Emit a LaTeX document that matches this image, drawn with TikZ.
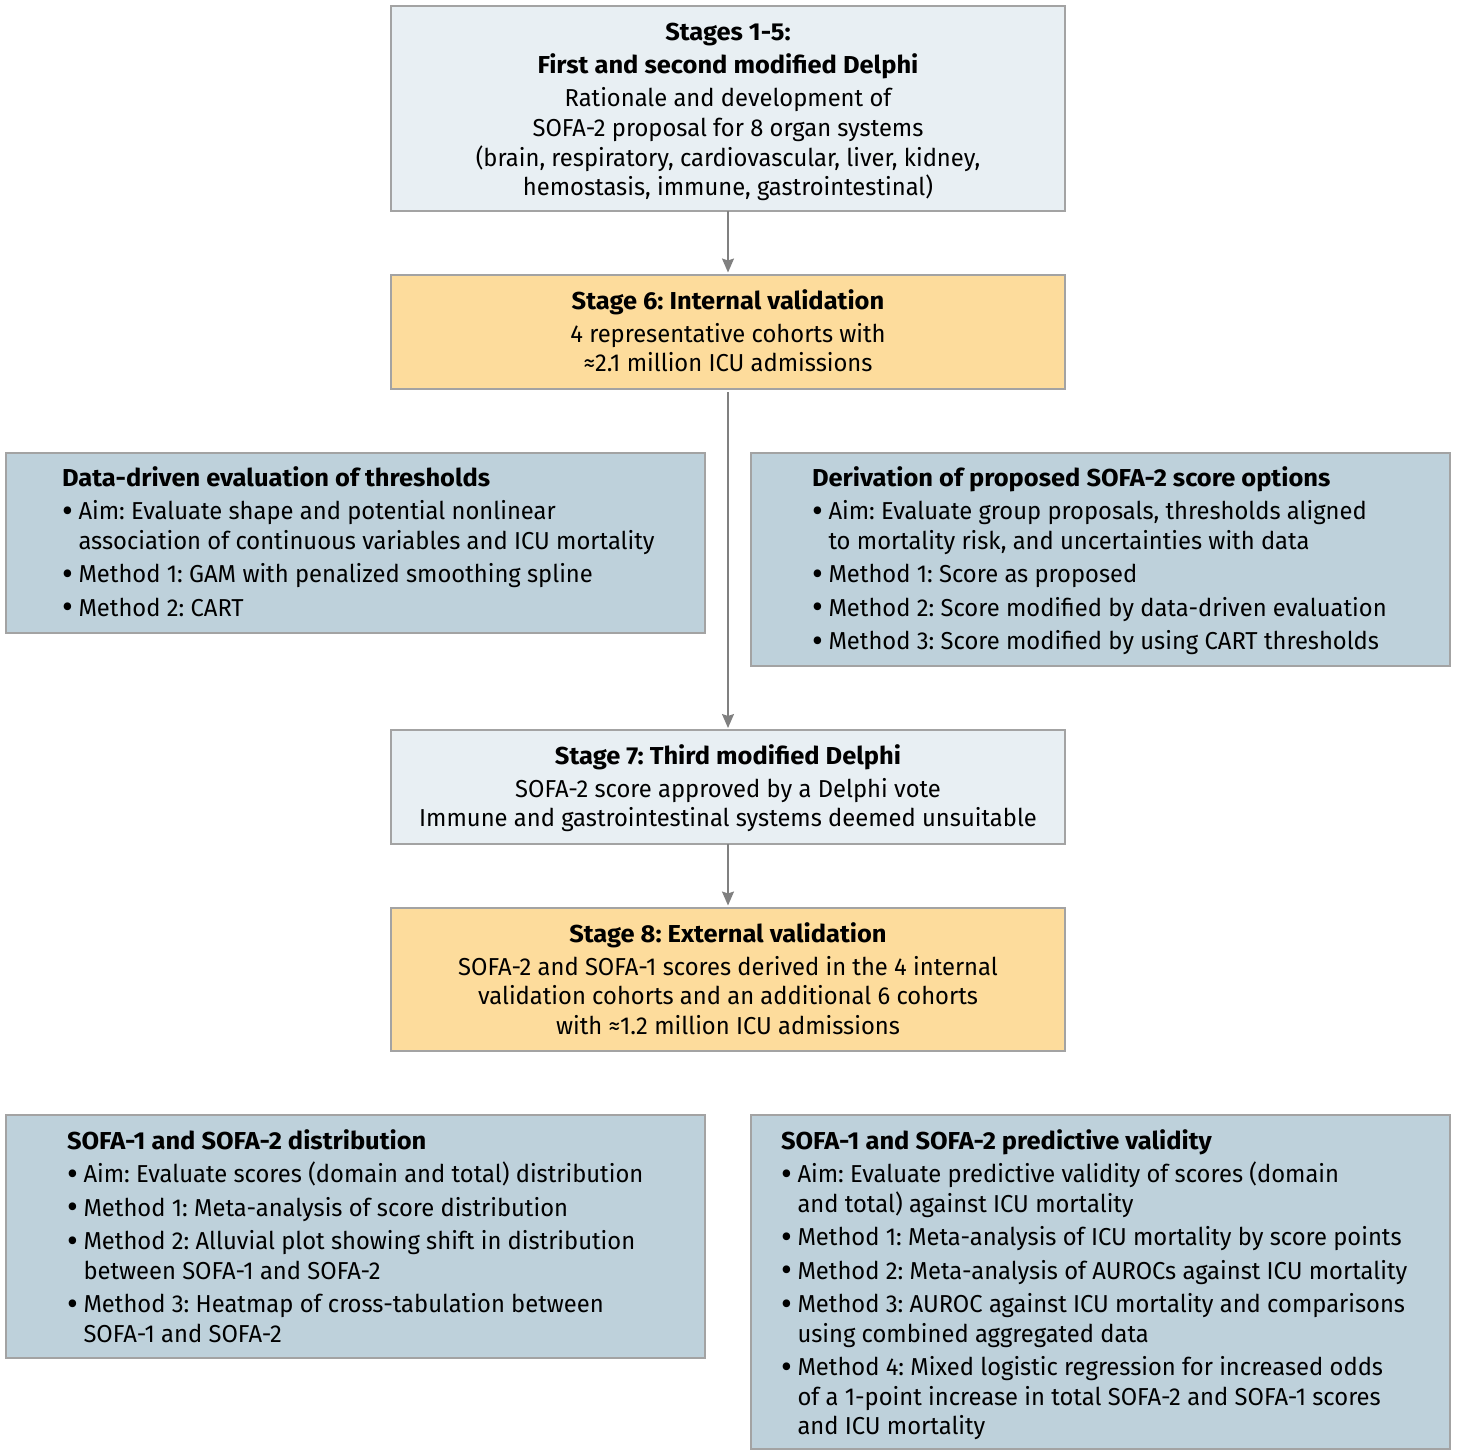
\documentclass[tikz,border=0pt]{standalone}
\usepackage{fontspec}
\setmainfont[FakeStretch=0.97]{Fira Sans}
\newfontfamily\titlefont[FakeStretch=1.04]{Fira Sans}
\usetikzlibrary{arrows.meta}
\frenchspacing
\definecolor{lightbox}{HTML}{E8EFF3}
\definecolor{orangebox}{HTML}{FDDC9C}
\definecolor{bluebox}{HTML}{BED1DB}
\definecolor{boxline}{HTML}{A3A3A3}
\definecolor{arrowgray}{HTML}{808080}
\newcommand{\bul}{\makebox[16.5pt][l]{\raisebox{-2.5pt}{\scalebox{1.4}{\textbullet}}}}
\newcommand{\ttl}[1]{\multicolumn{2}{@{}l@{}}{\titlefont\bfseries #1}}
\newcommand{\ctl}{\titlefont\bfseries}
\begin{document}
\begin{tikzpicture}[x=1pt,y=-1pt,
  boxshape/.style={draw=boxline,line width=1.4pt,rectangle,inner sep=0pt,outer sep=0pt},
  txt/.style={inner sep=0pt,outer sep=0pt,anchor=base west,font=\fontsize{24.5}{29.5}\selectfont\frenchspacing},
  ctxt/.style={inner sep=0pt,outer sep=0pt,anchor=base,font=\fontsize{24.5}{29.5}\selectfont\frenchspacing},
  arr/.style={draw=arrowgray,line width=1.5pt,-{Stealth[length=14pt,width=12pt,inset=2pt]}}
]
\useasboundingbox (0,0) rectangle (1457,1456);
\fill[white] (0,0) rectangle (1457,1456);

% boxes
\node[boxshape,fill=lightbox,minimum width=674pt,minimum height=205pt] (top) at (728,108.5) {};
\node[boxshape,fill=orangebox,minimum width=674pt,minimum height=114pt] (s6) at (728,332) {};
\node[boxshape,fill=bluebox,minimum width=699pt,minimum height=180pt] (l1) at (355.5,543) {};
\node[boxshape,fill=bluebox,minimum width=699pt,minimum height=213pt] (r1) at (1100.5,559.5) {};
\node[boxshape,fill=lightbox,minimum width=674pt,minimum height=114pt] (s7) at (728,787) {};
\node[boxshape,fill=orangebox,minimum width=674pt,minimum height=143pt] (s8) at (728,979.5) {};
\node[boxshape,fill=bluebox,minimum width=699pt,minimum height=243pt] (l2) at (355.5,1236.5) {};
\node[boxshape,fill=bluebox,minimum width=699pt,minimum height=334pt] (r2) at (1100.5,1282) {};

% texts
\node[ctxt] (toptext) at (728,40.5) {\begin{tabular}[t]{@{}c@{}}
\ctl Stages 1-5:\\[3.5pt]
\ctl First and second modified Delphi\\[3.5pt]
Rationale and development of\\[0.5pt]
SOFA-2 proposal for 8 organ systems\\
(brain, respiratory, cardiovascular, liver, kidney,\\
hemostasis, immune, gastrointestinal)
\end{tabular}};

\node[ctxt] (s6text) at (728,309) {\begin{tabular}[t]{@{}c@{}}
\ctl Stage 6: Internal validation\\[3.5pt]
4 representative cohorts with\\
≈2.1 million ICU admissions
\end{tabular}};

\node[txt] (l1text) at (62,486) {\begin{tabular}[t]{@{}l@{}l@{}}
\ttl{Data-driven evaluation of thresholds}\\[4pt]
\bul & Aim: Evaluate shape and potential nonlinear\\
 & association of continuous variables and ICU mortality\\[4pt]
\bul & Method 1: GAM with penalized smoothing spline\\[4pt]
\bul & Method 2: CART
\end{tabular}};

\node[txt] (r1text) at (812,486) {\begin{tabular}[t]{@{}l@{}l@{}}
\ttl{Derivation of proposed SOFA-2 score options}\\[4pt]
\bul & Aim: Evaluate group proposals, thresholds aligned\\
 & to mortality risk, and uncertainties with data\\[4pt]
\bul & Method 1: Score as proposed\\[4pt]
\bul & Method 2: Score modified by data-driven evaluation\\[4pt]
\bul & Method 3: Score modified by using CART thresholds
\end{tabular}};

\node[ctxt] (s7text) at (728,764) {\begin{tabular}[t]{@{}c@{}}
\ctl Stage 7: Third modified Delphi\\[3.5pt]
SOFA-2 score approved by a Delphi vote\\
Immune and gastrointestinal systems deemed unsuitable
\end{tabular}};

\node[ctxt] (s8text) at (728,942) {\begin{tabular}[t]{@{}c@{}}
\ctl Stage 8: External validation\\[3.5pt]
SOFA-2 and SOFA-1 scores derived in the 4 internal\\
validation cohorts and an additional 6 cohorts\\
with ≈1.2 million ICU admissions
\end{tabular}};

\node[txt] (l2text) at (67,1149) {\begin{tabular}[t]{@{}l@{}l@{}}
\ttl{SOFA-1 and SOFA-2 distribution}\\[4pt]
\bul & Aim: Evaluate scores (domain and total) distribution\\[4pt]
\bul & Method 1: Meta-analysis of score distribution\\[4pt]
\bul & Method 2: Alluvial plot showing shift in distribution\\
 & between SOFA-1 and SOFA-2\\[4pt]
\bul & Method 3: Heatmap of cross-tabulation between\\
 & SOFA-1 and SOFA-2
\end{tabular}};

\node[txt] (r2text) at (781,1149) {\begin{tabular}[t]{@{}l@{}l@{}}
\ttl{SOFA-1 and SOFA-2 predictive validity}\\[4pt]
\bul & Aim: Evaluate predictive validity of scores (domain\\
 & and total) against ICU mortality\\[4pt]
\bul & Method 1: Meta-analysis of ICU mortality by score points\\[4pt]
\bul & Method 2: Meta-analysis of AUROCs against ICU mortality\\[4pt]
\bul & Method 3: AUROC against ICU mortality and comparisons\\
 & using combined aggregated data\\[4pt]
\bul & Method 4: Mixed logistic regression for increased odds\\
 & of a 1-point increase in total SOFA-2 and SOFA-1 scores\\
 & and ICU mortality
\end{tabular}};

% arrows
\draw[arr,shorten >=2.5pt] (top.south) -- (s6.north);
\draw[arr,shorten <=3pt,shorten >=2pt] (s6.south) -- (s7.north);
\draw[arr,shorten >=2.5pt] (s7.south) -- (s8.north);
\end{tikzpicture}
\end{document}
